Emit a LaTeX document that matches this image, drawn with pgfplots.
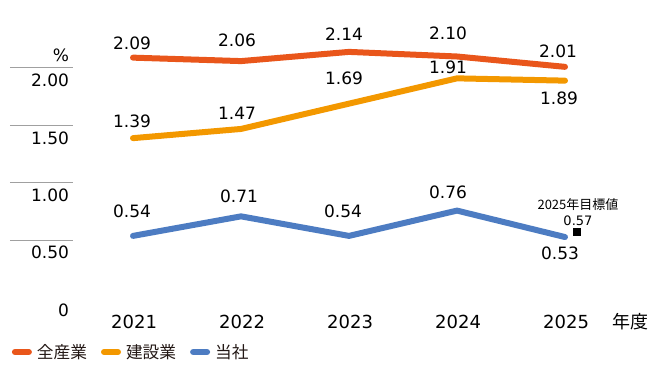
\documentclass[border=0pt]{standalone}
\usepackage{pgfplots}
\pgfplotsset{compat=1.18}
\usepackage{fontspec}
\setmainfont{DejaVu Sans}
\newfontfamily\jp{Noto Sans CJK JP}

\definecolor{cAll}{HTML}{E9561B}
\definecolor{cCon}{HTML}{F39800}
\definecolor{cOwn}{HTML}{4D7CC2}
\definecolor{txt}{HTML}{231815}
\definecolor{gridgray}{HTML}{A0A0A0}

\newcommand\vnum{\fontsize{17bp}{20bp}\selectfont}
\newcommand\tgt{\fontsize{13bp}{15bp}\selectfont}

\begin{document}
\begin{tikzpicture}
\begin{axis}[
  name=ax,
  width=650bp, height=378bp, scale only axis,
  xmin=2019.7685, xmax=2025.787,
  ymin=-0.69565, ymax=2.5913,
  axis lines=none, ticks=none, clip=false,
  every node/.style={text=txt},
  legend image code/.code={\draw[line width=6bp, line cap=round] (0bp,0bp) -- (14bp,0bp);},
  legend style={at={(axis cs:2019.851,-0.4696)}, anchor=west, draw=none, fill=none,
    legend columns=3, font=\jp\fontsize{16.7bp}{19bp}\selectfont, text=txt,
    /tikz/every odd column/.append style={column sep=5bp},
    /tikz/every even column/.append style={column sep=14bp},
    nodes={inner sep=0pt},
    inner xsep=0pt, inner ysep=0pt},
  line width=6bp, line cap=round, line join=round,
]
% short reference lines at the left
\foreach \v in {0.5,1,1.5,2}{
  \edef\tmp{\noexpand\draw[gridgray, line width=1bp, line cap=butt] (axis cs:2019.861,\v) -- (axis cs:2020.4445,\v);}
  \tmp
}
\node[anchor=east,inner sep=0pt] at (axis cs:2020.435,1.8957) {\vnum 2.00};
\node[anchor=east,inner sep=0pt] at (axis cs:2020.435,1.3913) {\vnum 1.50};
\node[anchor=east,inner sep=0pt] at (axis cs:2020.435,0.8957) {\vnum 1.00};
\node[anchor=east,inner sep=0pt] at (axis cs:2020.435,0.4000) {\vnum 0.50};
\node[anchor=east,inner sep=0pt] at (axis cs:2020.435,-0.1043) {\vnum 0};
\node[anchor=east,inner sep=0pt] at (axis cs:2020.435,2.1130) {\vnum\%};

% series
\addplot[cAll] coordinates {(2021,2.09) (2022,2.06) (2023,2.14) (2024,2.10) (2025,2.01)};
\addlegendentry{全産業}
\addplot[cCon] coordinates {(2021,1.39) (2022,1.47) (2023,1.69) (2024,1.91) (2025,1.89)};
\addlegendentry{建設業}
\addplot[cOwn] coordinates {(2021,0.54) (2022,0.71) (2023,0.54) (2024,0.76) (2025,0.53)};
\addlegendentry{当社}
% 2025 target
\addplot[forget plot, only marks, mark=square*, mark size=3.5bp, black, line width=0pt] coordinates {(2025.111,0.57)};

% value labels
\node[xshift=-1bp,yshift=14bp] at (axis cs:2021,2.09) {\vnum 2.09};
\node[xshift=-4bp,yshift=21bp] at (axis cs:2022,2.06) {\vnum 2.06};
\node[xshift=-5bp,yshift=18bp] at (axis cs:2023,2.14) {\vnum 2.14};
\node[xshift=-9bp,yshift=23bp] at (axis cs:2024,2.10) {\vnum 2.10};
\node[xshift=-7bp,yshift=16bp] at (axis cs:2025,2.01) {\vnum 2.01};

\node[xshift=-1bp,yshift=17bp] at (axis cs:2021,1.39) {\vnum 1.39};
\node[xshift=-4bp,yshift=16bp] at (axis cs:2022,1.47) {\vnum 1.47};
\node[xshift=-5bp,yshift=25bp] at (axis cs:2023,1.69) {\vnum 1.69};
\node[xshift=-9bp,yshift=11bp] at (axis cs:2024,1.91) {\vnum 1.91};
\node[xshift=-6bp,yshift=-18bp] at (axis cs:2025,1.89) {\vnum 1.89};

\node[xshift=-1bp,yshift=25bp] at (axis cs:2021,0.54) {\vnum 0.54};
\node[xshift=-2bp,yshift=20bp] at (axis cs:2022,0.71) {\vnum 0.71};
\node[xshift=-6bp,yshift=25bp] at (axis cs:2023,0.54) {\vnum 0.54};
\node[xshift=-9bp,yshift=18bp] at (axis cs:2024,0.76) {\vnum 0.76};
\node[xshift=-5bp,yshift=-16bp] at (axis cs:2025,0.53) {\vnum 0.53};

\node[inner sep=0pt] at (axis cs:2025.12,0.8087) {\jp\tgt 2025年目標値};
\node[inner sep=0pt] at (axis cs:2025.12,0.6696) {\tgt 0.57};

% year labels
\foreach \yr in {2021,2022,2023,2024,2025}{
  \edef\tmp{\noexpand\node at (axis cs:\yr.01,-0.2087) {\noexpand\fontsize{18bp}{20bp}\noexpand\selectfont \yr};}
  \tmp
}
\node at (axis cs:2025.611,-0.2087) {\jp\fontsize{18bp}{20bp}\selectfont 年度};
\end{axis}
\pgfresetboundingbox
\useasboundingbox (ax.south west) rectangle (ax.north east);
\end{tikzpicture}
\end{document}
